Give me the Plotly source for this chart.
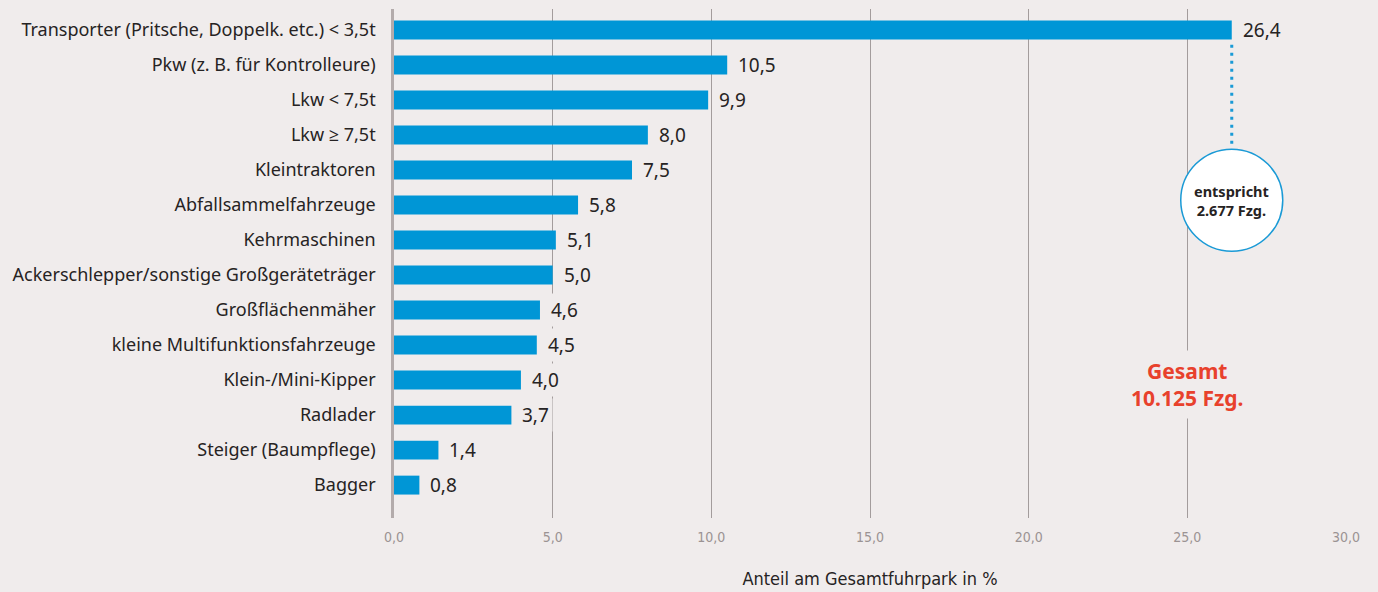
import plotly.graph_objects as go

categories = [
    "Transporter (Pritsche, Doppelk. etc.) < 3,5t",
    "Pkw (z. B. für Kontrolleure)",
    "Lkw < 7,5t",
    "Lkw ≥ 7,5t",
    "Kleintraktoren",
    "Abfallsammelfahrzeuge",
    "Kehrmaschinen",
    "Ackerschlepper/sonstige Großgeräteträger",
    "Großflächenmäher",
    "kleine Multifunktionsfahrzeuge",
    "Klein-/Mini-Kipper",
    "Radlader",
    "Steiger (Baumpflege)",
    "Bagger",
]
values = [26.4, 10.5, 9.9, 8.0, 7.5, 5.8, 5.1, 5.0, 4.6, 4.5, 4.0, 3.7, 1.4, 0.8]
tick_values = [0, 5, 10, 15, 20, 25, 30]
tick_labels = ["0,0", "5,0", "10,0", "15,0", "20,0", "25,0", "30,0"]
x_title = "Anteil am Gesamtfuhrpark in %"
bubble_text = "entspricht<br>2.677 Fzg."
total_text = "Gesamt<br>10.125 Fzg."

BG = "#f0ecec"
BLUE = "#0096d6"
DARK = "#262323"
FONT = "Noto Sans, Open Sans, sans-serif"
NARROW = "Liberation Sans Narrow, DejaVu Sans Condensed, sans-serif"

def fmt(v):
    return f"{v:.1f}".replace(".", ",")

fig = go.Figure()
fig.add_trace(go.Bar(
    x=values, y=categories, orientation="h",
    marker=dict(color=BLUE, line=dict(width=0)),
    width=0.54, hoverinfo="skip",
))

annotations = []
for c, v in zip(categories, values):
    annotations.append(dict(
        x=v, y=c, xref="x", yref="y", text=fmt(v), showarrow=False,
        xanchor="left", yanchor="middle", xshift=7,
        font=dict(family=FONT, size=19, color=DARK),
        bgcolor=BG, borderpad=3,
    ))

# bubble text
annotations.append(dict(
    x=values[0], y=4.86, xref="x", yref="y", text=bubble_text, showarrow=False,
    xanchor="center", yanchor="middle",
    font=dict(family=FONT, size=14.5, color=DARK, weight="bold"),
))
# total
annotations.append(dict(
    x=25, y=10.14, xref="x", yref="y", text=total_text, showarrow=False,
    xanchor="center", yanchor="middle",
    font=dict(family=FONT, size=21, color="#e8412c", weight="bold"),
    bgcolor=BG, borderpad=6,
))

shapes = [
    dict(type="line", xref="x", yref="y", x0=values[0], x1=values[0], y0=0.42, y1=3.38,
         line=dict(color="#1a9ad6", width=3, dash="3px,5px"), layer="above"),
    dict(type="circle", xref="x", yref="y", xsizemode="pixel", ysizemode="pixel",
         xanchor=values[0], yanchor=4.86, x0=-51, x1=51, y0=-51, y1=51,
         fillcolor="white", line=dict(color="#1a9ad6", width=1.5), layer="above"),
]

fig.update_layout(
    width=1378, height=592,
    paper_bgcolor=BG, plot_bgcolor=BG,
    margin=dict(l=394, r=32, t=9, b=74),
    showlegend=False,
    bargap=0.46,
    annotations=annotations,
    shapes=shapes,
    xaxis=dict(
        range=[0, 30], tickvals=tick_values, ticktext=tick_labels,
        showgrid=True, gridcolor="#a39c9c", gridwidth=1,
        zeroline=False, showline=False, ticks="",
        tickfont=dict(family=NARROW, size=14, color="#9b9393"),
        ticklabelstandoff=9,
        title=dict(text=x_title, font=dict(family=NARROW, size=18, color=DARK), standoff=28),
        automargin=False,
        fixedrange=True,
    ),
    yaxis=dict(
        type="category", categoryorder="array", categoryarray=categories,
        range=[13.94, -0.6],
        showgrid=False, zeroline=False,
        showline=True, linecolor="#b3abab", linewidth=2.5,
        ticks="", ticklabelstandoff=12,
        tickfont=dict(family=FONT, size=18, color=DARK),
        automargin=False,
        fixedrange=True,
    ),
)

fig.write_html("out.html", config={"displayModeBar": False},
               post_script="document.body.style.margin='0';")
